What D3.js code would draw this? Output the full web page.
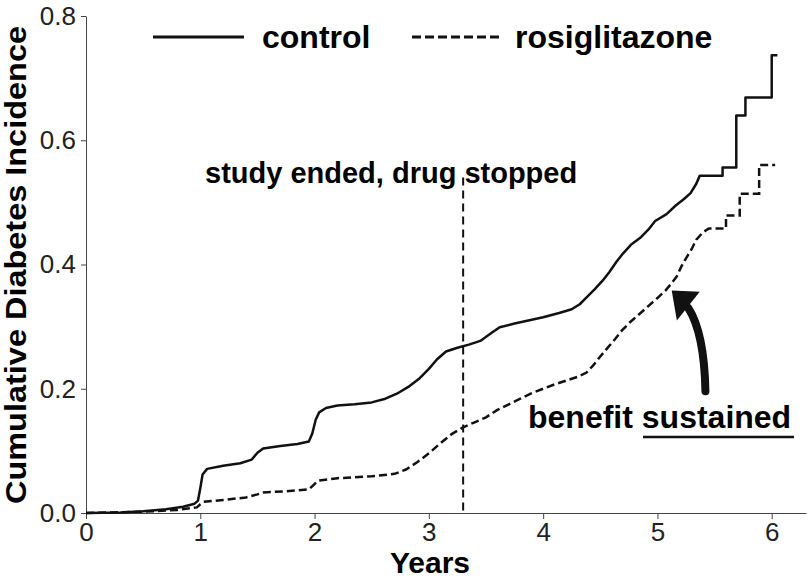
<!DOCTYPE html>
<html lang="en">
<head>
    <meta charset="UTF-8">
    <title>Cumulative Diabetes Incidence</title>
    <script src="https://cdn.jsdelivr.net/npm/d3@7"></script>
    <style>
        body { margin: 0; background: #fff; }
        svg { display: block; font-family: "Liberation Sans", Arial, Helvetica, sans-serif; }
    </style>
</head>
<body>
    <script>
        const width = 808;
        const height = 578;

        // cumulative incidence; repeated years are the vertical steps
        const controlYears = [0, 0.3, 0.5, 0.7, 0.85, 0.95, 0.98, 1.0, 1.02, 1.06, 1.2, 1.35, 1.45, 1.5, 1.55, 1.7, 1.85, 1.95, 1.98, 2.01, 2.04, 2.1, 2.2, 2.35, 2.5, 2.62, 2.72, 2.82, 2.92, 3.0, 3.07, 3.15, 3.25, 3.35, 3.45, 3.55, 3.62, 3.75, 3.9, 4.0, 4.14, 4.25, 4.32, 4.38, 4.45, 4.52, 4.58, 4.64, 4.7, 4.77, 4.85, 4.92, 4.98, 5.08, 5.16, 5.23, 5.29, 5.34, 5.37, 5.57, 5.57, 5.69, 5.69, 5.77, 5.77, 6.0, 6.0, 6.05];
        const controlValues = [0, 0.001, 0.003, 0.006, 0.01, 0.015, 0.02, 0.04, 0.062, 0.071, 0.076, 0.08, 0.086, 0.097, 0.104, 0.108, 0.111, 0.115, 0.128, 0.15, 0.162, 0.169, 0.173, 0.175, 0.178, 0.184, 0.192, 0.203, 0.217, 0.232, 0.247, 0.26, 0.266, 0.271, 0.277, 0.29, 0.299, 0.305, 0.311, 0.315, 0.322, 0.328, 0.336, 0.347, 0.36, 0.374, 0.388, 0.404, 0.418, 0.432, 0.443, 0.456, 0.47, 0.481, 0.495, 0.505, 0.515, 0.53, 0.543, 0.543, 0.556, 0.556, 0.64, 0.64, 0.669, 0.669, 0.737, 0.737];

        const rosiYears = [0, 0.5, 0.8, 0.97, 1.0, 1.03, 1.2, 1.4, 1.5, 1.55, 1.75, 1.95, 1.99, 2.03, 2.2, 2.5, 2.7, 2.8, 2.9, 3.0, 3.1, 3.2, 3.3, 3.4, 3.5, 3.6, 3.7, 3.8, 3.9, 4.0, 4.1, 4.2, 4.3, 4.38, 4.44, 4.5, 4.56, 4.63, 4.69, 4.76, 4.84, 4.92, 5.0, 5.07, 5.12, 5.17, 5.21, 5.25, 5.3, 5.34, 5.4, 5.45, 5.6, 5.6, 5.72, 5.72, 5.89, 5.89, 6.03];
        const rosiValues = [0, 0.002, 0.005, 0.009, 0.014, 0.018, 0.021, 0.025, 0.03, 0.033, 0.035, 0.038, 0.045, 0.052, 0.056, 0.059, 0.063, 0.07, 0.082, 0.096, 0.112, 0.127, 0.138, 0.146, 0.154, 0.166, 0.175, 0.184, 0.193, 0.2, 0.207, 0.213, 0.219, 0.226, 0.238, 0.252, 0.265, 0.28, 0.294, 0.307, 0.32, 0.333, 0.346, 0.358, 0.369, 0.381, 0.397, 0.41, 0.425, 0.44, 0.452, 0.458, 0.458, 0.479, 0.479, 0.514, 0.514, 0.56, 0.56];

        const xTicks = [0, 1, 2, 3, 4, 5, 6];
        const yTicks = [0, 0.2, 0.4, 0.6, 0.8];
        const studyEnd = 3.3;

        const x = d3.scaleLinear().domain([0, 6.3]).range([86, 806]);
        const y = d3.scaleLinear().domain([0, 0.8]).range([513, 16]);

        const svg = d3.select("body").append("svg")
            .attr("width", width)
            .attr("height", height);

        // axes
        svg.append("g")
            .attr("transform", `translate(0,${y(0)})`)
            .call(d3.axisBottom(x).tickValues(xTicks).tickFormat(d3.format("d")).tickSize(6).tickSizeOuter(0).tickPadding(4))
            .call(g => g.selectAll("text").attr("font-size", 26).attr("fill", "#222").attr("font-family", null))
            .call(g => g.selectAll("line, path").attr("stroke", "#444"));

        svg.append("g")
            .attr("transform", `translate(${x(0)},0)`)
            .call(d3.axisLeft(y).tickValues(yTicks).tickFormat(d3.format(".1f")).tickSize(5).tickSizeOuter(0).tickPadding(5))
            .call(g => g.selectAll("text").attr("font-size", 26).attr("fill", "#222").attr("font-family", null))
            .call(g => g.selectAll("line, path").attr("stroke", "#444"));

        svg.append("text")
            .attr("transform", "rotate(-90)")
            .attr("x", -265)
            .attr("y", 26)
            .attr("text-anchor", "middle")
            .attr("font-size", 29)
            .attr("font-weight", "bold")
            .attr("textLength", 478)
            .attr("lengthAdjust", "spacingAndGlyphs")
            .text("Cumulative Diabetes Incidence");

        svg.append("text")
            .attr("x", 430)
            .attr("y", 573)
            .attr("text-anchor", "middle")
            .attr("font-size", 30)
            .attr("font-weight", "bold")
            .text("Years");

        // curves
        const line = d3.line()
            .x(d => x(d[0]))
            .y(d => y(d[1]));

        const controlData = controlYears.map((t, i) => [t, controlValues[i]]);
        const rosiData = rosiYears.map((t, i) => [t, rosiValues[i]]);

        svg.append("path")
            .datum(controlData)
            .attr("fill", "none")
            .attr("stroke", "#111")
            .attr("stroke-width", 2.5)
            .attr("stroke-linejoin", "round")
            .attr("d", line);

        svg.append("path")
            .datum(rosiData)
            .attr("fill", "none")
            .attr("stroke", "#111")
            .attr("stroke-width", 2.5)
            .attr("stroke-dasharray", "8,4")
            .attr("d", line);

        // study end marker
        svg.append("line")
            .attr("x1", x(studyEnd)).attr("x2", x(studyEnd))
            .attr("y1", y(0.54)).attr("y2", y(0))
            .attr("stroke", "#111")
            .attr("stroke-width", 2)
            .attr("stroke-dasharray", "8,5");

        svg.append("text")
            .attr("x", 205)
            .attr("y", 183)
            .attr("font-size", 29)
            .attr("font-weight", "bold")
            .text("study ended, drug stopped");

        // legend
        const legend = svg.append("g");
        legend.append("line")
            .attr("x1", 153).attr("x2", 244).attr("y1", 37).attr("y2", 37)
            .attr("stroke", "#111").attr("stroke-width", 3);
        legend.append("text")
            .attr("x", 262).attr("y", 48)
            .attr("font-size", 32).attr("font-weight", "bold")
            .text("control");
        legend.append("line")
            .attr("x1", 412).attr("x2", 502).attr("y1", 37).attr("y2", 37)
            .attr("stroke", "#111").attr("stroke-width", 3)
            .attr("stroke-dasharray", "9,4");
        legend.append("text")
            .attr("x", 515).attr("y", 48)
            .attr("font-size", 32).attr("font-weight", "bold")
            .text("rosiglitazone");

        // benefit annotation
        svg.append("text")
            .attr("x", 528).attr("y", 428)
            .attr("font-size", 32).attr("font-weight", "bold")
            .text("benefit sustained");

        svg.append("line")
            .attr("x1", 643).attr("x2", 794).attr("y1", 437).attr("y2", 437)
            .attr("stroke", "#111").attr("stroke-width", 2.5);

        svg.append("path")
            .attr("d", `M${x(5.42)},${y(0.196)} Q${x(5.41)},${y(0.29)} ${x(5.27)},${y(0.33)}`)
            .attr("fill", "none")
            .attr("stroke", "#111")
            .attr("stroke-width", 8)
            .attr("stroke-linecap", "round");

        svg.append("path")
            .attr("d", `M${x(5.125)},${y(0.358)} L${x(5.37)},${y(0.356)} L${x(5.17)},${y(0.31)} Z`)
            .attr("fill", "#111");
    </script>
</body>
</html>
